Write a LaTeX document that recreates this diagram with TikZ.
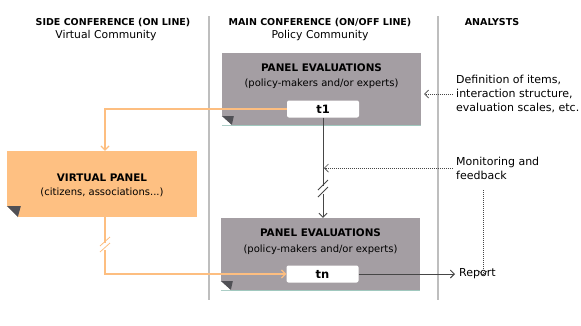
\documentclass[tikz,border=0pt]{standalone}
\usepackage{fontspec}
\setmainfont{DejaVu Sans}
\usetikzlibrary{arrows.meta}
\definecolor{panelgray}{RGB}{164,158,163}
\definecolor{vorange}{RGB}{254,192,130}
\definecolor{oline}{RGB}{253,190,128}
\definecolor{sepgray}{RGB}{190,190,190}
\definecolor{darkline}{RGB}{70,70,70}
\definecolor{foldgray}{RGB}{80,80,85}
\definecolor{teal}{RGB}{160,200,190}
\tikzset{
  hdr/.style={font=\fontsize{9.5}{11}\selectfont\bfseries, inner sep=0pt},
  hsub/.style={font=\fontsize{10.8}{12}\selectfont, inner sep=0pt},
  graybox/.style={fill=panelgray, draw=none, minimum width=199pt, minimum height=72pt, inner sep=0pt},
  orangebox/.style={fill=vorange, draw=none, minimum width=190pt, minimum height=66pt, inner sep=0pt},
  boxtitle/.style={font=\fontsize{10.4}{12}\selectfont\bfseries, inner sep=0pt},
  boxsub/.style={font=\fontsize{10}{12}\selectfont, inner sep=0pt},
  tbox/.style={fill=white, draw=none, rounded corners=2pt, minimum width=72pt, minimum height=17pt, inner sep=0pt, font=\fontsize{11.5}{12}\selectfont\bfseries},
  sep/.style={draw=sepgray, line width=1.4pt},
  darkarrow/.style={draw=darkline, line width=0.9pt, -{Straight Barb[length=4pt,width=8pt]}},
  orangearrow/.style={draw=oline, line width=1.2pt, -{Straight Barb[length=4pt,width=8pt]}},
  dotarrow/.style={draw=darkline, line width=0.9pt, dash pattern=on 1pt off 1pt, -{Straight Barb[length=4pt,width=8pt,line width=0.7pt]}},
  side/.style={font=\fontsize{11}{14}\selectfont, inner sep=0pt, align=left},
}
\begin{document}
\begin{tikzpicture}[x=1pt,y=-1pt]
\useasboundingbox (0,0) rectangle (581,325);
% separators
\coordinate (s1a) at (209,16); \coordinate (s1b) at (209,300);
\coordinate (s2a) at (438,16); \coordinate (s2b) at (438,300);
\draw[sep] (s1a) -- (s1b);
\draw[sep] (s2a) -- (s2b);
% headers
\node[hdr] (h1) at (113,23) {SIDE CONFERENCE (ON LINE)};
\node[hsub] (h1s) at (106,36) {Virtual Community};
\node[hdr] (h2) at (320,23) {MAIN CONFERENCE (ON/OFF LINE)};
\node[hsub] (h2s) at (320,36) {Policy Community};
\node[hdr] (h3) at (492,22) {ANALYSTS};
% top panel
\node[graybox] (pe1) at (321.5,89) {};
\draw[teal, line width=0.8pt] (pe1.south west) -- (pe1.south east);
\fill[foldgray] ([shift={(0,-9)}]pe1.south west) -- ++(12,0) -- ++(-2,9) -- cycle;
\fill[white] (pe1.south west) -- ++(0,-9) -- ++(10,9) -- cycle;
\node[boxtitle] (pe1t) at (321.5,68) {PANEL EVALUATIONS};
\node[boxsub] (pe1s) at (321.5,84) {(policy-makers and/or experts)};
\node[tbox] (t1) at (323,109) {t1};
% bottom panel
\node[graybox] (pe2) at (320.5,254) {};
\draw[teal, line width=0.8pt] (pe2.south west) -- (pe2.south east);
\fill[foldgray] ([shift={(0,-9)}]pe2.south west) -- ++(12,0) -- ++(-2,9) -- cycle;
\fill[white] (pe2.south west) -- ++(0,-9) -- ++(10,9) -- cycle;
\node[boxtitle] (pe2t) at (320.5,233) {PANEL EVALUATIONS};
\node[boxsub] (pe2s) at (320.5,250) {(policy-makers and/or experts)};
\node[tbox] (tn) at (322.5,274) {tn};
% virtual panel
\node[orangebox] (vp) at (102,184) {};
\fill[foldgray] ([shift={(0,-11)}]vp.south west) -- ++(14,0) -- ++(-3,11) -- cycle;
\fill[white] (vp.south west) -- ++(0,-11) -- ++(11,11) -- cycle;
\node[boxtitle] (vpt) at (102,178) {VIRTUAL PANEL};
\node[boxsub] (vps) at (102,192) {(citizens, associations...)};
% right column texts
\node[side, anchor=west] (def) at (456,94) {Definition of items,\\interaction structure,\\evaluation scales, etc.};
\node[side, anchor=west] (mon) at (456,168) {Monitoring and\\feedback};
\node[side, anchor=west] (rep) at (459,274) {Report};
% connectors
\draw[darkarrow] (t1.south) -- (t1.south |- pe2.north);
\fill[white] (317,186) -- (329,186) -- (329,194) -- (317,194) -- cycle;
\draw[darkline, line width=0.8pt] (318,190) -- (328,180);
\draw[darkline, line width=0.8pt] (318,197) -- (328,187);
\draw[orangearrow] (t1.west) -| ([xshift=3pt]vp.north);
\draw[orangearrow] ([xshift=3pt]vp.south) |- (tn.west);
\fill[white] (100,243) -- (111,243) -- (111,250) -- (100,250) -- cycle;
\draw[oline, line width=0.8pt] (100,246) -- (110,237);
\draw[oline, line width=0.8pt] (100,252) -- (110,243);
\draw[darkarrow] (tn.east) -- ([xshift=-4pt]tn.east -| rep.west);
\draw[dotarrow] ([xshift=-3pt]def.west) -- ([xshift=3pt]def.west -| pe1.east);
\draw[dotarrow] ([xshift=-3pt]mon.west) -- ([xshift=1pt]mon.west -| t1.south);
\coordinate (mb) at (483,190);
\draw[dotarrow] (mb) -- ([yshift=-7pt]mb |- rep.north);
\end{tikzpicture}
\end{document}
